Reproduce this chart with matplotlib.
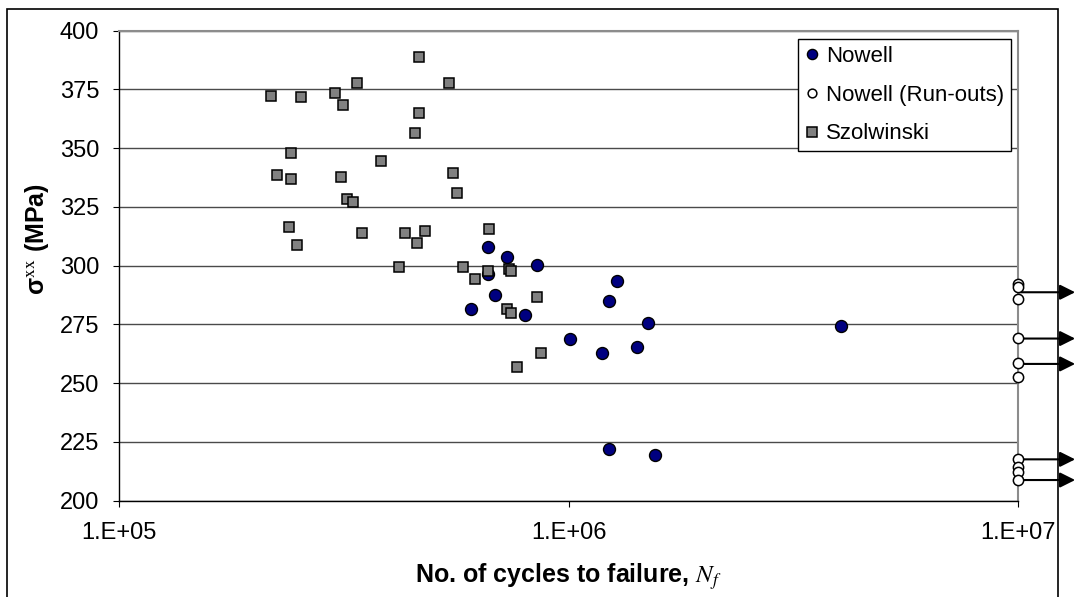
import numpy as np
import matplotlib.pyplot as plt
from matplotlib.patches import Rectangle
from matplotlib.ticker import FuncFormatter, NullLocator

# Nowell fretting fatigue tests (cycles to failure, stress in MPa)
nowell_n = [6.07e5, 6.62e5, 6.63e5, 6.86e5, 7.30e5, 8.00e5, 8.50e5, 1.01e6,
            1.19e6, 1.23e6, 1.23e6, 1.28e6, 1.42e6, 1.50e6, 1.56e6, 4.04e6]
nowell_s = [281.5, 308.1, 296.5, 287.4, 303.6, 278.9, 300.2, 268.7,
            262.7, 284.9, 221.9, 293.4, 265.3, 275.5, 219.3, 274.5]

# Nowell run-outs, stopped at 1E7 cycles
runout_n = [1e7] * 10
runout_s = [292.2, 290.8, 285.7, 269.1, 258.5, 252.5, 217.6, 214.5, 212.2, 208.8]
# stress levels that carry a run-out arrow
arrow_s = [288.7, 269.0, 258.2, 217.6, 208.8]

# Szolwinski tests
szol_n = [4.64e5, 3.38e5, 5.41e5, 2.18e5, 2.54e5, 3.02e5, 3.15e5, 4.64e5, 4.56e5,
          2.41e5, 3.82e5, 2.25e5, 2.41e5, 3.12e5, 5.53e5, 5.64e5, 3.21e5, 3.32e5,
          2.39e5, 3.48e5, 4.32e5, 4.80e5, 6.66e5, 2.49e5, 4.60e5, 4.20e5, 5.83e5,
          6.20e5, 6.63e5, 7.37e5, 7.45e5, 8.50e5, 7.30e5, 7.45e5, 8.69e5, 7.68e5]
szol_s = [388.7, 377.6, 377.6, 372.3, 371.6, 373.4, 368.3, 364.9, 356.3,
          347.8, 344.4, 338.5, 336.8, 337.6, 339.3, 330.8, 328.3, 327.2,
          316.3, 313.8, 313.8, 314.8, 315.5, 308.7, 309.5, 299.3, 299.3,
          294.2, 297.6, 298.4, 297.6, 286.6, 281.5, 279.8, 262.7, 256.8]

x_ticks = [1e5, 1e6, 1e7]
y_ticks = list(range(200, 401, 25))


def plot_sn():
    plt.rcParams['font.family'] = 'Liberation Sans'
    plt.rcParams['mathtext.fontset'] = 'stix'

    fig = plt.figure(figsize=(10.76, 5.97), dpi=100)
    ax = fig.add_axes([0.1106, 0.1613, 0.8355, 0.7873])

    ax.set_xscale('log')
    ax.set_xlim(1e5, 1e7)
    ax.set_ylim(200, 400)
    ax.set_xticks(x_ticks)
    ax.xaxis.set_minor_locator(NullLocator())
    ax.xaxis.set_major_formatter(
        FuncFormatter(lambda v, p: '1.E+%02d' % round(np.log10(v))))
    ax.set_yticks(y_ticks)

    ax.yaxis.grid(True, color='#4a4a4a', lw=1.0)
    ax.set_axisbelow(True)
    for side in ['left', 'bottom']:
        ax.spines[side].set_color('black')
        ax.spines[side].set_linewidth(1.0)
    for side in ['top', 'right']:
        ax.spines[side].set_color('#8c8c8c')
        ax.spines[side].set_linewidth(1.5)

    ax.tick_params(direction='out', length=4.3, width=0.8, labelsize=17)
    ax.tick_params(axis='x', pad=11)
    ax.tick_params(axis='y', pad=10)

    ax.plot(nowell_n, nowell_s, 'o', ms=8.6, mfc='#000080', mec='black',
            mew=1.0, label='Nowell', zorder=3)
    ax.plot(runout_n, runout_s, 'o', ms=7.4, mfc='white', mec='black',
            mew=1.1, label='Nowell (Run-outs)', clip_on=False, zorder=4)
    ax.plot(szol_n, szol_s, 's', ms=7.7, mfc='#808080', mec='black',
            mew=1.1, label='Szolwinski', zorder=5)

    # run-out arrows pointing off the right of the plot
    for s in arrow_s:
        ax.annotate('', xy=(1e7 * 1.34, s), xytext=(1e7, s),
                    arrowprops=dict(arrowstyle='-|>', color='black', lw=1.5,
                                    mutation_scale=23, shrinkA=0, shrinkB=0),
                    annotation_clip=False, zorder=2)

    leg = ax.legend(loc='upper right', bbox_to_anchor=(0.9922, 0.982),
                    fontsize=16, fancybox=False, edgecolor='black',
                    framealpha=1, borderaxespad=0, handlelength=0.6,
                    handletextpad=0.35, labelspacing=0.8, markerscale=0.85,
                    borderpad=0.3)
    leg.get_frame().set_linewidth(1.0)

    ax.set_xlabel('No. of cycles to failure, $N_f$', fontsize=18,
                  fontweight='bold')
    ax.xaxis.set_label_coords(0.5, -0.128)
    ax.set_ylabel(r'σ$^{\mathrm{xx}}$ (MPa)', fontsize=18, fontweight='bold')
    ax.yaxis.set_label_coords(-0.076, 0.557)

    # chart area frame
    fig.patches.append(Rectangle((7 / 1076, -0.05), 1051 / 1076,
                                 1.05 - 9 / 597, transform=fig.transFigure,
                                 fill=False, edgecolor='black', lw=1.2))

    fig.savefig('out.png', dpi=100)


if __name__ == "__main__":
    plot_sn()
